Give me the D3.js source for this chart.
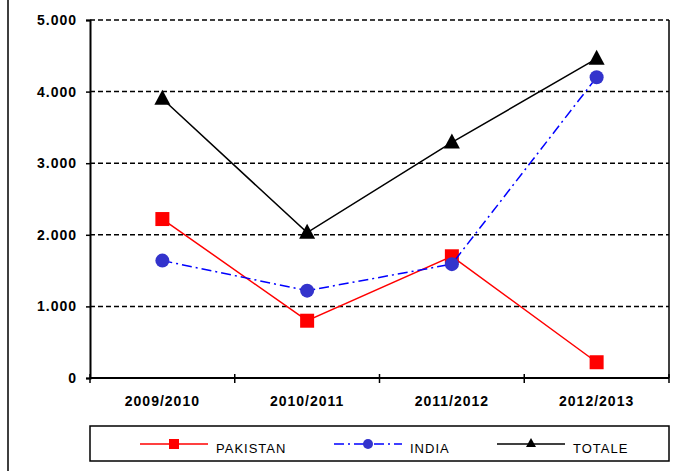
<!DOCTYPE html>
<html>
<head>
<meta charset="utf-8">
<script src="https://cdn.jsdelivr.net/npm/d3@7"></script>
<style>
body { margin: 0; background: #fff; }
svg { font-family: "Liberation Sans", Arial, sans-serif; }
</style>
</head>
<body>
<svg id="chart"></svg>
<script>
var categories = ["2009/2010", "2010/2011", "2011/2012", "2012/2013"];
var pakistan = [2220, 800, 1700, 220];
var india = [1640, 1220, 1590, 4200];
var totale = [3900, 2030, 3290, 4460];
var yTicks = [0, 1000, 2000, 3000, 4000, 5000];
var seriesNames = ["PAKISTAN", "INDIA", "TOTALE"];

var svgWidth = 673, svgHeight = 471;
var plot = {left: 90, top: 20, right: 669, bottom: 378};

var svg = d3.select('#chart')
	.attr("width", svgWidth)
	.attr("height", svgHeight);

// outer frame (only left edge is visible)
svg.append("rect")
	.attr("x", 8).attr("y", -5)
	.attr("width", 700).attr("height", 500)
	.attr("fill", "none").attr("stroke", "#000").attr("stroke-width", 1.5);

var xScale = d3.scaleBand()
	.domain(categories)
	.range([plot.left, plot.right]);

var yScale = d3.scaleLinear()
	.domain([0, 5000])
	.range([plot.bottom, plot.top]);

var fmt = function(d){
	return d === 0 ? "0" : d3.format(",")(d).replace(/,/g, ".");
};

// gridlines
svg.append("g")
	.selectAll("line")
	.data(yTicks.filter(function(d){ return d > 0; }))
	.enter()
	.append("line")
	.attr("x1", plot.left).attr("x2", plot.right)
	.attr("y1", function(d){ return yScale(d); })
	.attr("y2", function(d){ return yScale(d); })
	.attr("stroke", "#000").attr("stroke-width", 1.5)
	.attr("stroke-dasharray", "5,3");

// right border
svg.append("line")
	.attr("x1", plot.right).attr("x2", plot.right)
	.attr("y1", plot.top).attr("y2", plot.bottom)
	.attr("stroke", "#000").attr("stroke-width", 1.5);

// y axis
var yAxis = d3.axisLeft(yScale).tickValues(yTicks).tickFormat(fmt).tickSize(4).tickPadding(9);
var gy = svg.append("g")
	.attr("transform", `translate(${plot.left},0)`)
	.call(yAxis);
gy.select(".domain").attr("stroke-width", 2);
gy.selectAll(".tick line").attr("stroke-width", 1.5);
gy.selectAll("text")
	.attr("font-size", 14).attr("font-weight", "bold")
	.attr("letter-spacing", 1)
	.attr("font-family", "Liberation Sans, Arial, sans-serif");

// x axis
var xTickPos = d3.range(categories.length + 1).map(function(i){
	return plot.left + xScale.step() * i;
});
svg.append("line")
	.attr("x1", plot.left).attr("x2", plot.right)
	.attr("y1", plot.bottom).attr("y2", plot.bottom)
	.attr("stroke", "#000").attr("stroke-width", 2);
svg.append("g")
	.selectAll("line")
	.data(xTickPos)
	.enter()
	.append("line")
	.attr("x1", function(d){ return d; }).attr("x2", function(d){ return d; })
	.attr("y1", plot.bottom - 4).attr("y2", plot.bottom + 5)
	.attr("stroke", "#000").attr("stroke-width", 1.5);
svg.append("g")
	.selectAll("text")
	.data(categories)
	.enter()
	.append("text")
	.attr("x", function(d){ return xScale(d) + xScale.bandwidth() / 2; })
	.attr("y", 406)
	.attr("text-anchor", "middle")
	.attr("font-size", 14).attr("font-weight", "bold")
	.attr("letter-spacing", 1)
	.text(function(d){ return d; });

var cx = function(d, i){ return xScale(categories[i]) + xScale.bandwidth() / 2; };
var line = d3.line()
	.x(function(d, i){ return cx(d, i); })
	.y(function(d){ return yScale(d); });

var series = [
	{name: "PAKISTAN", values: pakistan, stroke: "#ff0000", dash: null, marker: "square", fill: "#ff0000"},
	{name: "INDIA", values: india, stroke: "#0000ff", dash: "10,4,2,4", marker: "circle", fill: "#3333cc"},
	{name: "TOTALE", values: totale, stroke: "#000000", dash: null, marker: "triangle", fill: "#000000"}
];

function drawMarker(g, type, x, y, fill){
	if (type === "square") {
		g.append("rect").attr("x", x - 7).attr("y", y - 7)
			.attr("width", 14).attr("height", 14).attr("fill", fill);
	} else if (type === "circle") {
		g.append("circle").attr("cx", x).attr("cy", y).attr("r", 7).attr("fill", fill);
	} else {
		g.append("path")
			.attr("d", `M${x},${y - 9}L${x + 8},${y + 6}L${x - 8},${y + 6}Z`)
			.attr("fill", fill);
	}
}

series.forEach(function(s){
	svg.append("path")
		.datum(s.values)
		.attr("d", line)
		.attr("fill", "none")
		.attr("stroke", s.stroke)
		.attr("stroke-width", 1.5)
		.attr("stroke-dasharray", s.dash);
	var g = svg.append("g");
	s.values.forEach(function(v, i){
		drawMarker(g, s.marker, cx(v, i), yScale(v), s.fill);
	});
});

// legend
svg.append("rect")
	.attr("x", 90).attr("y", 426)
	.attr("width", 579).attr("height", 35)
	.attr("fill", "#fff").attr("stroke", "#000").attr("stroke-width", 1.5);

var legendX = [140, 334, 497];
series.forEach(function(s, i){
	var lx = legendX[i], ly = 444;
	svg.append("line")
		.attr("x1", lx).attr("x2", lx + 68)
		.attr("y1", ly).attr("y2", ly)
		.attr("stroke", s.stroke).attr("stroke-width", 1.5)
		.attr("stroke-dasharray", s.dash);
	var g = svg.append("g");
	if (s.marker === "square") {
		g.append("rect").attr("x", lx + 29).attr("y", ly - 5).attr("width", 10).attr("height", 10).attr("fill", s.fill);
	} else if (s.marker === "circle") {
		g.append("circle").attr("cx", lx + 34).attr("cy", ly).attr("r", 5).attr("fill", s.fill);
	} else {
		g.append("path").attr("d", `M${lx + 34},${ly - 6}L${lx + 39},${ly + 3}L${lx + 29},${ly + 3}Z`).attr("fill", s.fill);
	}
	svg.append("text")
		.attr("x", lx + 76).attr("y", ly + 9)
		.attr("font-size", 13)
		.attr("letter-spacing", 1)
		.text(s.name);
});
</script>
</body>
</html>
